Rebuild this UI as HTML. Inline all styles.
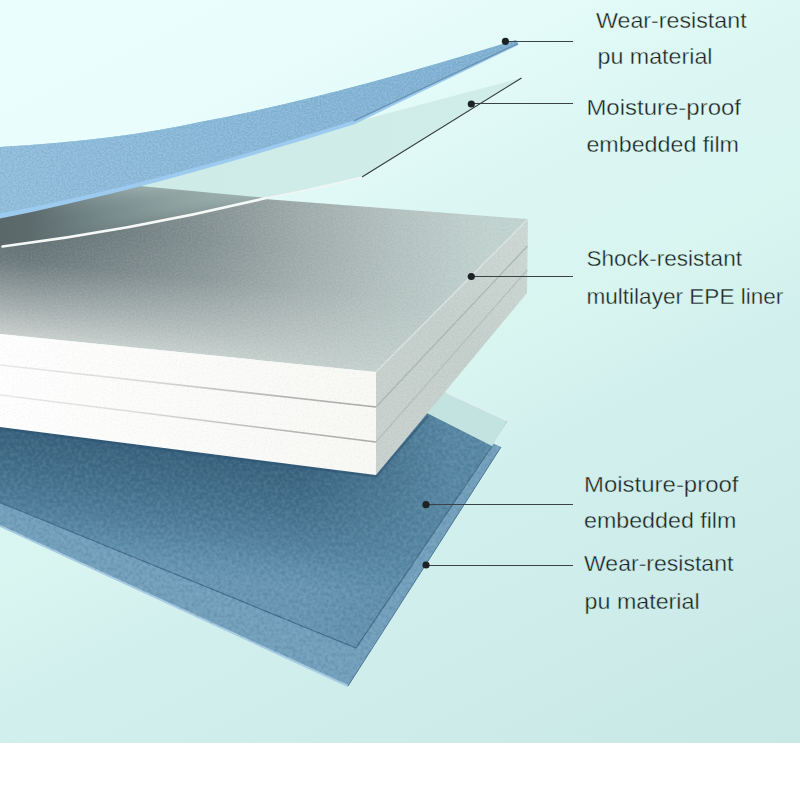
<!DOCTYPE html>
<html lang="en">
<head>
<meta charset="utf-8">
<title>Layer structure</title>
<style>
html,body{margin:0;padding:0;background:#fff;}
body{width:800px;height:800px;overflow:hidden;position:relative;font-family:"Liberation Sans",sans-serif;}
svg{display:block;position:absolute;left:0;top:0;}
text{font-family:"Liberation Sans",sans-serif;fill:#1c1f20;}
</style>
</head>
<body>
<svg width="800" height="800" viewBox="0 0 800 800">
<defs>
  <linearGradient id="bg" gradientUnits="userSpaceOnUse" x1="0" y1="0" x2="457.2" y2="914.4">
    <stop offset="0" stop-color="#eafefe"/>
    <stop offset="0.18" stop-color="#e8fdfc"/>
    <stop offset="0.37" stop-color="#dcf7f3"/>
    <stop offset="0.52" stop-color="#d9f5f0"/>
    <stop offset="0.64" stop-color="#d1efed"/>
    <stop offset="1" stop-color="#c8e8e6"/>
  </linearGradient>
  <!-- EPE top shadow: perpendicular to front edge, fades to the right -->
  <linearGradient id="epeBase" gradientUnits="userSpaceOnUse" x1="0" y1="0" x2="520" y2="0">
    <stop offset="0" stop-color="#cad1cf"/>
    <stop offset="0.6" stop-color="#c6d1ce"/>
    <stop offset="1" stop-color="#c2d4d1"/>
  </linearGradient>
  <linearGradient id="epeShade" gradientUnits="userSpaceOnUse" x1="0" y1="334" x2="11.1" y2="222.6">
    <stop offset="0" stop-color="#3c4d52" stop-opacity="0"/>
    <stop offset="0.67" stop-color="#3c4d52" stop-opacity="0.66"/>
    <stop offset="1" stop-color="#3c4d52" stop-opacity="0.76"/>
  </linearGradient>
  <linearGradient id="epeMaskG" gradientUnits="userSpaceOnUse" x1="0" y1="0" x2="520" y2="0">
    <stop offset="0" stop-color="#fff" stop-opacity="1"/>
    <stop offset="0.058" stop-color="#fff" stop-opacity="1"/>
    <stop offset="0.19" stop-color="#fff" stop-opacity="0.86"/>
    <stop offset="0.385" stop-color="#fff" stop-opacity="0.64"/>
    <stop offset="0.577" stop-color="#fff" stop-opacity="0.37"/>
    <stop offset="0.77" stop-color="#fff" stop-opacity="0.15"/>
    <stop offset="0.92" stop-color="#fff" stop-opacity="0.02"/>
    <stop offset="1" stop-color="#fff" stop-opacity="0"/>
  </linearGradient>
  <mask id="epeMask" maskUnits="userSpaceOnUse" x="0" y="150" width="540" height="250">
    <rect x="0" y="150" width="540" height="250" fill="url(#epeMaskG)"/>
  </mask>
  <linearGradient id="layerLine" gradientUnits="userSpaceOnUse" x1="0" y1="0" x2="376" y2="0">
    <stop offset="0" stop-color="#e9e9e8"/>
    <stop offset="0.35" stop-color="#dcdddc"/>
    <stop offset="0.75" stop-color="#b4b7b5"/>
    <stop offset="1" stop-color="#a8aba9"/>
  </linearGradient>
  <linearGradient id="frontG" gradientUnits="userSpaceOnUse" x1="0" y1="0" x2="376" y2="0">
    <stop offset="0" stop-color="#fefefe"/>
    <stop offset="1" stop-color="#f8f8f5"/>
  </linearGradient>
  <linearGradient id="blueTop" gradientUnits="userSpaceOnUse" x1="0" y1="180" x2="516" y2="40">
    <stop offset="0" stop-color="#8fbddb"/>
    <stop offset="0.5" stop-color="#86b6d7"/>
    <stop offset="0.8" stop-color="#81b2d4"/>
    <stop offset="1" stop-color="#7eb0d2"/>
  </linearGradient>
  <linearGradient id="filmShade" gradientUnits="userSpaceOnUse" x1="0" y1="0" x2="270" y2="0">
    <stop offset="0" stop-color="#5a6869"/>
    <stop offset="0.11" stop-color="#5d6b6c"/>
    <stop offset="0.37" stop-color="#74878a"/>
    <stop offset="0.63" stop-color="#8da19f"/>
    <stop offset="1" stop-color="#a8bcb9"/>
  </linearGradient>
  <linearGradient id="botDark" gradientUnits="userSpaceOnUse" x1="0" y1="427" x2="-15" y2="547">
    <stop offset="0" stop-color="#38617d"/>
    <stop offset="0.3" stop-color="#436e8a"/>
    <stop offset="0.6" stop-color="#4f7d9a"/>
    <stop offset="0.85" stop-color="#5f8fab"/>
    <stop offset="1" stop-color="#6896b3"/>
  </linearGradient>
  <linearGradient id="botLight" gradientUnits="userSpaceOnUse" x1="300" y1="0" x2="450" y2="0">
    <stop offset="0" stop-color="#588aa4" stop-opacity="0"/>
    <stop offset="1" stop-color="#5b8ca8" stop-opacity="0.9"/>
  </linearGradient>
  <filter id="leather" x="0" y="0" width="100%" height="100%" color-interpolation-filters="sRGB">
    <feTurbulence type="fractalNoise" baseFrequency="0.28" numOctaves="2" seed="7" result="n"/>
    <feColorMatrix in="n" type="matrix" values="0 0 0 0 1  0 0 0 0 1  0 0 0 0 1  3.2 0 0 0 -1.45"/>
  </filter>
  <filter id="leatherD" x="0" y="0" width="100%" height="100%" color-interpolation-filters="sRGB">
    <feTurbulence type="fractalNoise" baseFrequency="0.28" numOctaves="2" seed="7" result="n"/>
    <feColorMatrix in="n" type="matrix" values="0 0 0 0 0.08  0 0 0 0 0.18  0 0 0 0 0.28  -3.2 0 0 0 1.55"/>
  </filter>
  <filter id="grain" x="0" y="0" width="100%" height="100%" color-interpolation-filters="sRGB">
    <feTurbulence type="fractalNoise" baseFrequency="0.55" numOctaves="2" seed="11" result="n"/>
    <feColorMatrix in="n" type="matrix" values="0 0 0 0 1  0 0 0 0 1  0 0 0 0 1  2.4 0 0 0 -1.0"/>
  </filter>
  <filter id="grainD" x="0" y="0" width="100%" height="100%" color-interpolation-filters="sRGB">
    <feTurbulence type="fractalNoise" baseFrequency="0.55" numOctaves="2" seed="11" result="n"/>
    <feColorMatrix in="n" type="matrix" values="0 0 0 0 0.2  0 0 0 0 0.25  0 0 0 0 0.28  -2.4 0 0 0 1.2"/>
  </filter>
  <clipPath id="clipBot"><polygon points="0,526 348,686 501,447 427,413 0,380"/></clipPath>
  <clipPath id="clipEpe"><polygon points="0,179 528,219 527,293 376,475 0,427"/></clipPath>
  <clipPath id="clipTopBlue"><path d="M0,147 Q120,140 200,122 Q330,98 516,40 L518,43.5 L354,120.5 C236,158 118,190.5 0,213.5 Z"/></clipPath>
  <linearGradient id="rface" gradientUnits="userSpaceOnUse" x1="376" y1="430" x2="528" y2="250">
    <stop offset="0" stop-color="#c8d1ce"/>
    <stop offset="0.5" stop-color="#c4cfcb"/>
    <stop offset="1" stop-color="#cbd7d3"/>
  </linearGradient>
  <linearGradient id="filmG" gradientUnits="userSpaceOnUse" x1="140" y1="0" x2="520" y2="0">
    <stop offset="0" stop-color="#ceebe8"/>
    <stop offset="1" stop-color="#d1edea"/>
  </linearGradient>
  <linearGradient id="filmShadeV" gradientUnits="userSpaceOnUse" x1="30" y1="208" x2="36.3" y2="243">
    <stop offset="0" stop-color="#c9dcd9" stop-opacity="0.32"/>
    <stop offset="0.5" stop-color="#9aa9a8" stop-opacity="0"/>
    <stop offset="1" stop-color="#3f4d4f" stop-opacity="0.22"/>
  </linearGradient>
  <linearGradient id="fadeInX" gradientUnits="userSpaceOnUse" x1="30" y1="0" x2="150" y2="0">
    <stop offset="0" stop-color="#fff" stop-opacity="0"/>
    <stop offset="1" stop-color="#fff" stop-opacity="1"/>
  </linearGradient>
  <mask id="fadeInMask" maskUnits="userSpaceOnUse" x="0" y="170" width="300" height="90">
    <rect x="0" y="170" width="300" height="90" fill="url(#fadeInX)"/>
  </mask>
</defs>

<!-- background -->
<rect x="0" y="0" width="800" height="743" fill="url(#bg)"/>
<rect x="0" y="743" width="800" height="57" fill="#ffffff"/>

<!-- bottom PU sheet -->
<polygon points="0,526 348,686 501,447 427,413 0,380" fill="#729fbb"/>
<polyline points="0,526 348,686" fill="none" stroke="#a5cbe3" stroke-width="2"/>
<polyline points="348,686 501,447" fill="none" stroke="#4a7692" stroke-width="1"/>
<!-- bottom film (over blue) -->
<polygon points="0,502.5 356,648 507.5,420.6 447,393 0,370" fill="url(#botDark)"/>
<polygon points="0,502.5 356,648 507.5,420.6 447,393 0,370" fill="url(#botLight)"/>
<polyline points="0,502.5 356,648 492,446" fill="none" stroke="#416c8a" stroke-width="1.2"/>
<g clip-path="url(#clipBot)">
  <rect x="0" y="370" width="520" height="330" filter="url(#leather)" opacity="0.07"/>
  <rect x="0" y="370" width="520" height="330" filter="url(#leatherD)" opacity="0.10"/>
</g>
<!-- film beyond blue (light) -->
<polygon points="436,388 507.5,420.6 492,446 413,406" fill="#c2e3df"/>
<polyline points="447,393 507.5,420.6" fill="none" stroke="#e6f3f3" stroke-width="1.2"/>

<!-- contact shadow under slab -->
<polyline points="0,428.5 376,476.5 428,416" fill="none" stroke="#2c5270" stroke-width="2.4" stroke-opacity="0.55"/>
<!-- EPE slab -->
<polygon points="0,179 528,219 376,372 0,334" fill="url(#epeBase)"/>
<g mask="url(#epeMask)"><polygon points="0,179 528,219 376,372 0,334" fill="url(#epeShade)"/></g>
<!-- right face -->
<polygon points="528,219 527,293 376,475 376,372" fill="url(#rface)"/>
<!-- front face -->
<polygon points="0,334 376,372 376,475 0,427" fill="url(#frontG)"/>
<polyline points="0,365 376,407" fill="none" stroke="url(#layerLine)" stroke-width="1.7"/>
<polyline points="0,395 376,442" fill="none" stroke="url(#layerLine)" stroke-width="1.7"/>
<polyline points="376,407 527.5,246" fill="none" stroke="#aab7b4" stroke-width="1.3"/>
<polyline points="376,442 527.3,270" fill="none" stroke="#b3bfbc" stroke-width="1.2"/>
<polyline points="376,372 528,219" fill="none" stroke="#d9e3e0" stroke-width="1.5"/>

<g clip-path="url(#clipEpe)">
  <rect x="0" y="170" width="540" height="310" filter="url(#grain)" opacity="0.08"/>
  <rect x="0" y="170" width="540" height="310" filter="url(#grainD)" opacity="0.05"/>
</g>
<!-- top film -->
<path d="M0,210 L355,122 L521.5,78 L362,177 Q300,192 266,198 Q133.75,230 0,247 Z" fill="url(#filmG)"/>
<path d="M0,214 Q80,202 139,186 L266,198 Q133.75,230 0,247 Z" fill="url(#filmShade)"/>
<g mask="url(#fadeInMask)"><path d="M0,214 Q80,202 139,186 L266,198 Q133.75,230 0,247 Z" fill="url(#filmShadeV)"/></g>
<path d="M362,177 L521.5,78" stroke="#333c3e" stroke-width="1.15" fill="none"/>
<path d="M362,177 Q300,192 266,198" stroke="#f1f6f5" stroke-width="1.5" fill="none"/>
<path d="M266,198 Q133.75,230 2.5,246.5" stroke="#f4f8f7" stroke-width="2.6" stroke-linecap="round" fill="none"/>

<!-- top blue PU sheet -->
<path d="M0,147 Q120,140 200,122 Q330,98 516,40 L518.5,45 L355,124 C236,161.5 118,195 0,218.5 Z" fill="#9ccbef"/>
<path d="M0,147 Q120,140 200,122 Q330,98 516,40 L518,43.5 L354,120.5 C236,158 118,190.5 0,213.5 Z" fill="url(#blueTop)"/>
<g clip-path="url(#clipTopBlue)">
  <rect x="0" y="30" width="530" height="200" filter="url(#grain)" opacity="0.14"/>
  <rect x="0" y="30" width="530" height="200" filter="url(#grainD)" opacity="0.10"/>
</g>
<path d="M518,43.5 L354,120.8" stroke="#5f87a3" stroke-width="1.4" stroke-opacity="0.8" fill="none"/>

<!-- leaders -->
<g stroke="#3a4243" stroke-width="1.2" fill="none">
  <line x1="505" y1="41.5" x2="573" y2="41.5"/>
  <line x1="471" y1="103.5" x2="573" y2="103.5"/>
  <line x1="471" y1="276.5" x2="573" y2="276.5"/>
  <line x1="426" y1="504.5" x2="573" y2="504.5"/>
  <line x1="426" y1="565.5" x2="573" y2="565.5"/>
</g>
<g fill="#1d2324">
  <circle cx="505.4" cy="41.3" r="3.6"/>
  <circle cx="471.3" cy="104" r="3.6"/>
  <circle cx="471.3" cy="276.5" r="3.6"/>
  <circle cx="426" cy="504.7" r="3.6"/>
  <circle cx="426" cy="565" r="3.6"/>
</g>

<!-- labels -->
<g font-size="21.5">
  <text x="596" y="27.6" stroke="#dcf7f3" stroke-width="0.35" textLength="150.6" lengthAdjust="spacingAndGlyphs">Wear-resistant</text>
  <text x="597.5" y="63.6" stroke="#dcf7f3" stroke-width="0.35" textLength="115" lengthAdjust="spacingAndGlyphs">pu material</text>
  <text x="586.4" y="115" stroke="#dbf6f2" stroke-width="0.35" textLength="154.6" lengthAdjust="spacingAndGlyphs">Moisture-proof</text>
  <text x="586.4" y="151.5" stroke="#daf6f1" stroke-width="0.35" textLength="152.6" lengthAdjust="spacingAndGlyphs">embedded film</text>
  <text x="586.4" y="266" stroke="#d6f3ef" stroke-width="0.35" textLength="155.6" lengthAdjust="spacingAndGlyphs">Shock-resistant</text>
  <text x="586.4" y="303.5" stroke="#d4f1ee" stroke-width="0.35" textLength="197" lengthAdjust="spacingAndGlyphs">multilayer EPE liner</text>
  <text x="584" y="491.5" stroke="#cfeeeb" stroke-width="0.35" textLength="154.5" lengthAdjust="spacingAndGlyphs">Moisture-proof</text>
  <text x="584" y="528.4" stroke="#ceedea" stroke-width="0.35" textLength="152.4" lengthAdjust="spacingAndGlyphs">embedded film</text>
  <text x="584" y="571" stroke="#cdecea" stroke-width="0.35" textLength="149.4" lengthAdjust="spacingAndGlyphs">Wear-resistant</text>
  <text x="584.6" y="608.5" stroke="#ccebe9" stroke-width="0.35" textLength="115" lengthAdjust="spacingAndGlyphs">pu material</text>
</g>
</svg>
</body>
</html>
